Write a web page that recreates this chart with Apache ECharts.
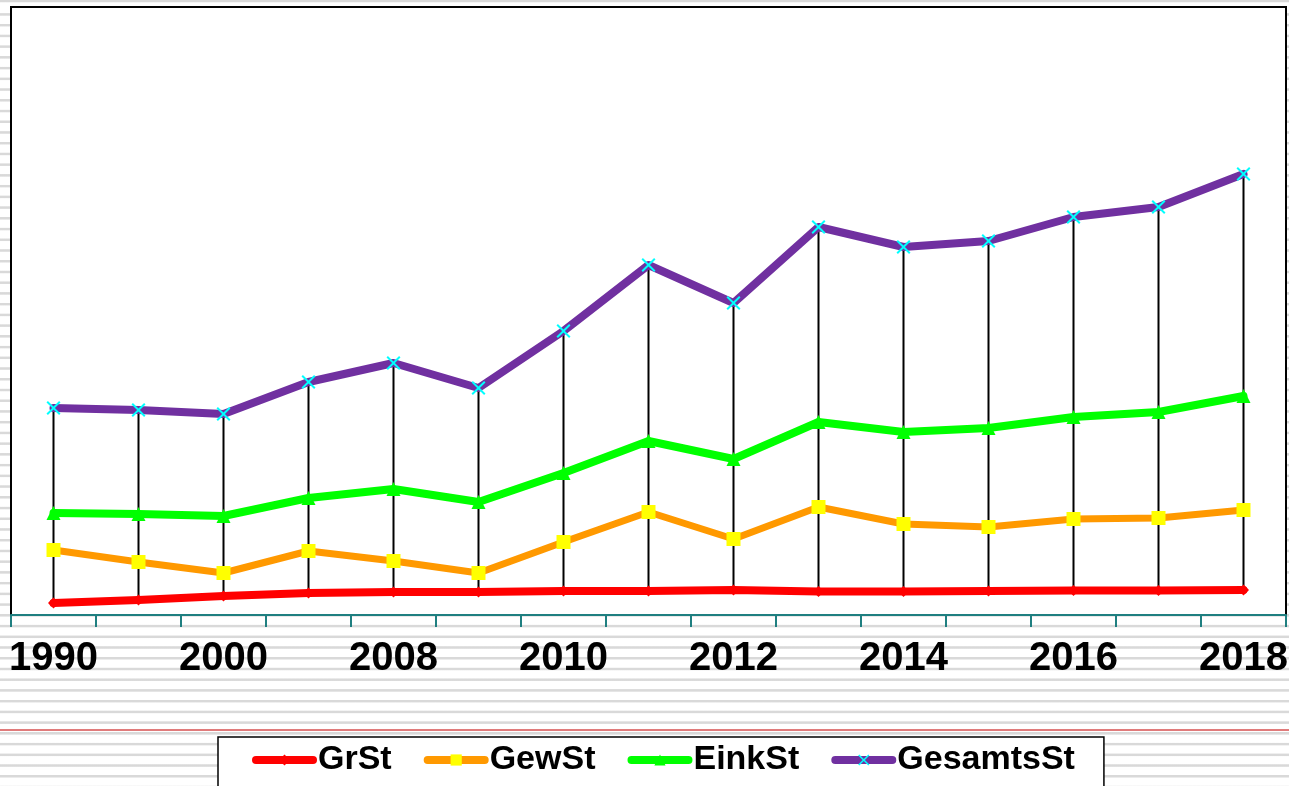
<!DOCTYPE html>
<html>
<head>
<meta charset="utf-8">
<title>Steuereinnahmen</title>
<script src="https://cdn.jsdelivr.net/npm/echarts@6/dist/echarts.min.js"></script>
<style>
    html, body {
        margin: 0;
        padding: 0;
    }
    body {
        width: 1289px;
        height: 786px;
        overflow: hidden;
        background-color: #ffffff;
        background-image: repeating-linear-gradient(
            to bottom,
            #ffffff 0px,
            #ffffff 2.8px,
            #d9d9d9 3.6px,
            #d9d9d9 5.2px,
            #ffffff 6.2px,
            #ffffff 10.73px
        );
        background-position: 0 10px;
    }
    #chart {
        width: 1289px;
        height: 786px;
    }
</style>
</head>
<body>
<div id="chart"></div>
<script>
// Jahre (nur jede zweite Beschriftung ist sichtbar)
const years = ['1990', '1995', '2000', '2005', '2008', '2009', '2010', '2011',
    '2012', '2013', '2014', '2015', '2016', '2017', '2018'];

// Werte in Diagramm-Einheiten (keine Skala im Original)
const grSt = [12, 15, 19, 22, 23, 23, 24, 24, 25, 23.5, 23.5, 24, 24.5, 24.5, 25];
const gewSt = [65, 53, 42, 64, 54, 42, 73, 103, 76, 108, 91, 88, 96, 97, 105];
const einkSt = [102, 101, 99, 117, 126, 113, 142, 174, 156, 193, 183, 187, 198, 203, 219];
const gesamtsSt = [207, 205, 201, 233, 252, 227, 284, 350, 312, 388, 368, 374, 398, 408, 441];

const seriesNames = ['GrSt', 'GewSt', 'EinkSt', 'GesamtsSt'];

const xMark = 'path://M0,1L1,0L5,4L9,0L10,1L6,5L10,9L9,10L5,6L1,10L0,9L4,5Z';

const chart = echarts.init(document.getElementById('chart'), null, { renderer: 'canvas' });

// Hoch-Tief-Linien: von GrSt bis GesamtsSt
const highLow = years.map((y, i) => [i, grSt[i], gesamtsSt[i]]);

const lineSeries = (name, data, lineColor, symbol, symbolSize, markColor, width) => ({
    name,
    type: 'line',
    data,
    z: 3,
    symbol,
    symbolSize,
    showSymbol: true,
    lineStyle: { color: lineColor, width, cap: 'round', join: 'round' },
    itemStyle: { color: markColor, borderWidth: 0 },
    emphasis: { disabled: true },
    animation: false,
});

const option = {
    backgroundColor: 'transparent',
    animation: false,
    grid: {
        left: 11,
        right: 3,
        top: 7,
        bottom: 171,
        containLabel: false,
        outerBoundsMode: 'none',
        show: true,
        backgroundColor: '#ffffff',
        borderColor: '#000000',
        borderWidth: 2,
    },
    legend: {
        data: seriesNames,
        left: 218,
        top: 737,
        orient: 'horizontal',
        padding: [6, 29, 40, 34],
        backgroundColor: '#ffffff',
        borderColor: '#000000',
        borderWidth: 1.5,
        borderRadius: 0,
        itemWidth: 57,
        itemHeight: 14,
        itemGap: 32,
        lineStyle: { width: 8, cap: 'round' },
        selectedMode: false,
        textStyle: {
            fontFamily: '"Liberation Sans", Arial, sans-serif',
            fontWeight: 'bold',
            fontSize: 34,
            color: '#000000',
        },
    },
    xAxis: {
        type: 'category',
        data: years,
        boundaryGap: true,
        axisLine: { show: true, lineStyle: { color: '#1f7f80', width: 2 } },
        axisTick: {
            show: true,
            interval: 0,
            alignWithLabel: false,
            length: 12,
            lineStyle: { color: '#1f7f80', width: 2 },
        },
        axisLabel: {
            interval: 1,
            margin: 24,
            fontFamily: '"Liberation Sans", Arial, sans-serif',
            fontWeight: 'bold',
            fontSize: 40,
            color: '#000000',
        },
        splitLine: { show: false },
    },
    yAxis: {
        type: 'value',
        min: 0,
        max: 608,
        axisLine: { show: false },
        axisTick: { show: false },
        axisLabel: { show: false },
        splitLine: { show: false },
    },
    graphic: [
        {
            type: 'rect',
            silent: true,
            z: -1,
            shape: { x: 0, y: 729, width: 1289, height: 2 },
            style: { fill: '#e07b7b' },
        },
    ],
    series: [
        {
            name: 'HochTief',
            type: 'custom',
            z: 1,
            silent: true,
            data: highLow,
            renderItem: (params, api) => {
                const low = api.coord([api.value(0), api.value(1)]);
                const high = api.coord([api.value(0), api.value(2)]);
                return {
                    type: 'line',
                    shape: { x1: low[0], y1: low[1], x2: high[0], y2: high[1] },
                    style: { stroke: '#000000', lineWidth: 2 },
                };
            },
        },
        lineSeries('GrSt', grSt, '#ff0000', 'diamond', 11, '#ff0000', 8),
        lineSeries('GewSt', gewSt, '#ff9900', 'rect', 14, '#ffff00', 7),
        lineSeries('EinkSt', einkSt, '#00ff00', 'triangle', 14, '#00ff00', 8),
        lineSeries('GesamtsSt', gesamtsSt, '#7030a0', xMark, 14, '#00ffff', 8),
    ],
};

chart.setOption(option);
</script>
</body>
</html>
